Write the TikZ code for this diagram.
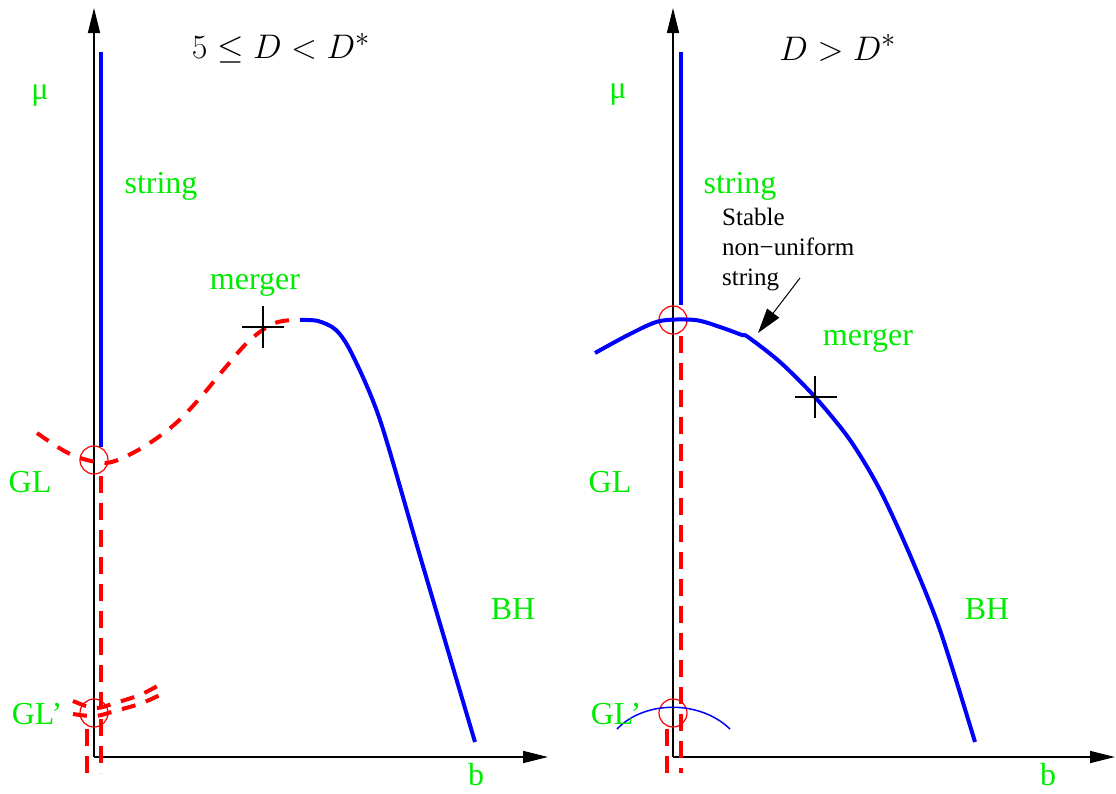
\documentclass[tikz,border=0pt]{standalone}
\usepackage[no-math]{fontspec}
\setmainfont{Liberation Serif}
\usetikzlibrary{arrows.meta}
\definecolor{lgreen}{RGB}{0,235,0}
\tikzset{
  axis/.style={line width=1.5pt, -{Triangle[length=25pt,width=12pt]}},
  blueline/.style={blue, line width=4pt},
  reddash/.style={red, line width=4pt, dash pattern=on 17pt off 10pt},
  redcurve/.style={red, line width=4pt, dash pattern=on 14pt off 11pt},
  glab/.style={text=lgreen, font=\fontsize{32}{38}\selectfont, inner sep=0pt},
  ring/.style={draw=red, line width=1.2pt, circle, minimum size=28pt, inner sep=0pt},
  crossmark/.style={black, line width=1.2pt},
  title/.style={font=\Huge, scale=1.37, inner sep=0pt},
  note/.style={font=\fontsize{25}{30}\selectfont, align=left, inner sep=0pt}
}
\begin{document}
\begin{tikzpicture}[x=1pt,y=-1pt]
\useasboundingbox (0,0) rectangle (1116,793);
% ---------- left panel ----------
\coordinate (o1) at (94,757);
\coordinate (y1) at (94,8);
\coordinate (x1) at (548,757);
\draw[axis] (o1) -- (y1);
\draw[axis] (o1) -- (x1);
\node[title] (t1) at (281,48) {$5\le D<D^*$};
\node[ring] (gl1) at (94,460) {};
\node[ring] (glp1) at (94,713) {};
\coordinate (s1a) at (101,52);
\coordinate (s1b) at (101,447);
\draw[blueline] (s1a) -- (s1b);
\coordinate (r1a) at (101,476);
\coordinate (r1b) at (101,773);
\coordinate (r1c) at (87,729);
\coordinate (r1d) at (87,773);
\draw[reddash] (r1a) -- (r1b);
\draw[reddash] (r1c) -- (r1d);
\draw[redcurve] plot[smooth, tension=0.6] coordinates {(37,433) (68,453) (96,462) (115,461) (145,446) (175,424) (200,398) (225,368) (250,340) (275,323) (298,320)};
\draw[blueline] plot[smooth, tension=0.5] coordinates {(300,320) (318,321) (336,330) (352,354) (380,420) (420,556) (475,742)};
\draw[redcurve] plot[smooth, tension=0.6] coordinates {(73,701) (95,708) (115,703) (142,694) (166,681)};
\draw[redcurve] plot[smooth, tension=0.6] coordinates {(73,714) (95,716) (115,711) (142,703) (166,692)};
\draw[crossmark] (242,327) -- (284,327) (263,306) -- (263,348);
\node[glab] (mu1) at (40,96) {μ};
\node[glab] (str1) at (161,186) {string};
\node[glab] (mg1) at (255,285) {merger};
\node[glab] (gll1) at (30,482) {GL};
\node[glab] (glpl1) at (37,714) {GL’};
\node[glab] (bh1) at (513,609) {BH};
\node[glab] (b1) at (476,775) {b};
% ---------- right panel ----------
\coordinate (o2) at (673,757);
\coordinate (y2) at (673,8);
\coordinate (x2) at (1115,757);
\draw[axis] (o2) -- (y2);
\draw[axis] (o2) -- (x2);
\node[title] (t2) at (838,48) {$D>D^*$};
\node[ring] (gl2) at (673,320) {};
\node[ring] (glp2) at (673,713) {};
\coordinate (s2a) at (681,52);
\coordinate (s2b) at (681,305);
\draw[blueline] (s2a) -- (s2b);
\coordinate (r2a) at (681,336);
\coordinate (r2b) at (681,773);
\coordinate (r2c) at (667,729);
\coordinate (r2d) at (667,773);
\draw[reddash] (r2a) -- (r2b);
\draw[reddash] (r2c) -- (r2d);
\draw[blueline] plot[smooth, tension=0.5] coordinates {(595,353) (630,334) (660,321) (695,320) (720,327) (742,335) (748,337) (780,362) (815,397) (850,440) (880,490) (910,555) (940,630) (975,742)};
\draw[blue, line width=1.5pt] (617,729) .. controls (645,700) and (700,700) .. (730,729);
\draw[crossmark] (795,397) -- (837,397) (815,376) -- (815,418);
\node[note, anchor=west] (nt) at (722,250) {Stable\\non−uniform\\string};
\coordinate (ar1) at (800,278);
\coordinate (ar2) at (758,333);
\draw[line width=1pt, -{Triangle[length=25pt,width=15pt]}] (ar1) -- (ar2);
\node[glab] (mu2) at (618,95) {μ};
\node[glab] (str2) at (740,186) {string};
\node[glab] (mg2) at (868,341) {merger};
\node[glab] (gll2) at (610,482) {GL};
\node[glab] (glpl2) at (616,714) {GL’};
\node[glab] (bh2) at (987,609) {BH};
\node[glab] (b2) at (1048,775) {b};
\end{tikzpicture}
\end{document}
